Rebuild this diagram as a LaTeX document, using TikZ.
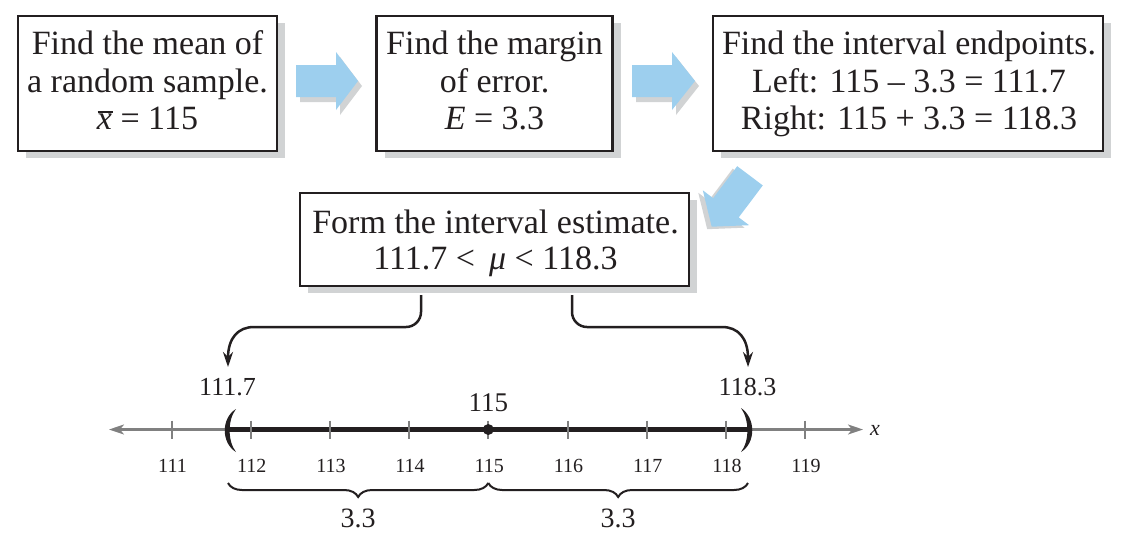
\documentclass[tikz,border=0pt]{standalone}
\usepackage{fontspec}
\setmainfont{Liberation Serif}
\usetikzlibrary{calc,arrows.meta,decorations.pathreplacing,shadows}
\definecolor{arrowblue}{RGB}{157,207,238}
\definecolor{shadowgray}{RGB}{209,211,212}
\definecolor{axisgray}{RGB}{128,128,128}
\definecolor{ink}{RGB}{35,31,32}
\newcommand\fatarrow[3]{% #1 tail, #2 tip, #3 style
  \coordinate (#1h) at ($(#1)!40pt!(#2)$);
  \fill[#3] ($(#1)!16pt!90:(#2)$) -- ($(#1h)!16pt!90:(#2)$) -- ($(#1h)!29pt!90:(#2)$) -- (#2)
    -- ($(#1h)!29pt!-90:(#2)$) -- ($(#1h)!16pt!-90:(#2)$) -- ($(#1)!16pt!-90:(#2)$) -- cycle;
}
\newcommand\xbar{\leavevmode\rlap{\hspace{0.02em}\raisebox{0.5em}{\rule{0.46em}{1.6pt}}}\textit{x}}
\begin{document}
\begin{tikzpicture}[x=1pt,y=-1pt,
  box/.style={draw=ink, line width=2.5pt, fill=white, inner sep=0pt,
    drop shadow={shadow xshift=8pt, shadow yshift=-7pt, opacity=1, fill=shadowgray}},
  txt/.style={anchor=base, inner sep=0pt, text=ink, font=\fontsize{34}{38}\selectfont},
  ticklab/.style={anchor=base, inner sep=0pt, text=ink, font=\fontsize{20}{24}\selectfont},
  biglab/.style={anchor=base, inner sep=0pt, text=ink, font=\fontsize{27}{30}\selectfont},
  conn/.style={draw=ink, line width=2.5pt, -{Stealth[length=15pt,width=10pt,inset=5pt]}},
  axisline/.style={draw=axisgray, line width=2.2pt},
  tickline/.style={draw=axisgray, line width=2pt},
  bracestyle/.style={draw=ink, line width=2pt, decorate, decoration={brace, amplitude=14pt, mirror}},
]
\useasboundingbox (0,0) rectangle (1126,539);

% boxes
\node[box, minimum width=259pt, minimum height=135pt] (b1) at (147.5,83.5) {};
\node[box, minimum width=236pt, minimum height=135pt] (b2) at (494.5,83.5) {};
\node[box, minimum width=390pt, minimum height=135pt] (b3) at (908,83.5) {};
\node[box, minimum width=389pt, minimum height=93pt] (b4) at (494.5,239.5) {};

% box texts
\node[txt] (t1a) at (147.5,54.5) {Find the mean of};
\node[txt] (t1b) at (147.5,92) {a random sample.};
\node[txt] (t1c) at (147.5,129.5) {\xbar{} = 115};
\node[txt] (t2a) at (494.5,54.5) {Find the margin};
\node[txt] (t2b) at (494.5,92) {of error.};
\node[txt] (t2c) at (494.5,129.5) {\textit{E} = 3.3};
\node[txt] (t3a) at (909,54.5) {Find the interval endpoints.};
\node[txt] (t3b) at (909,92) {Left: 115 – 3.3 = 111.7};
\node[txt] (t3c) at (909,129.5) {Right: 115 + 3.3 = 118.3};
\node[txt] (t4a) at (495.5,233) {Form the interval estimate.};
\node[txt] (t4b) at (495.5,269.5) {111.7 <\, \textit{μ} < 118.3};

% fat arrows
\coordinate (a1) at (296,81); \coordinate (a1t) at (358,81);
\coordinate (a2) at (632,81); \coordinate (a2t) at (695,81);
\coordinate (a3) at (750,175.8); \coordinate (a3t) at (711.7,226.7);
\coordinate (s1) at (300,86); \coordinate (s1t) at (362,86);
\coordinate (s2) at (636,86); \coordinate (s2t) at (699,86);
\coordinate (s3) at (745.5,178.3); \coordinate (s3t) at (707.2,229.2);
\fatarrow{s1}{s1t}{shadowgray}
\fatarrow{s2}{s2t}{shadowgray}
\fatarrow{s3}{s3t}{shadowgray}
\fatarrow{a1}{a1t}{arrowblue}
\fatarrow{a2}{a2t}{arrowblue}
\fatarrow{a3}{a3t}{arrowblue}

% number line
\draw[axisline, {Stealth[length=15pt,width=10pt,inset=4pt]}-{Stealth[length=15pt,width=10pt,inset=4pt]}] (109,429.5) -- (863,429.5);
\draw[ink, line width=5pt] (227,429.5) -- (749.5,429.5);
\foreach \v in {111,...,119} {
  \draw[tickline] ({488.3+79.2*(\v-115)},420.5) -- ++(0,18);
  \node[ticklab] (tl\v) at ({488.3+79.2*(\v-115)+1},472) {\v};
}
\fill[ink] (488.3,429.5) circle (5.5);
\fill[ink] (236,409) .. controls (221,418) and (221,443) .. (236,452)
  .. controls (227.5,441) and (227.5,420) .. (236,409) -- cycle;
\fill[ink] (741,408) .. controls (756,418) and (756,443) .. (741,452)
  .. controls (749.5,441) and (749.5,420) .. (741,408) -- cycle;
\node[anchor=base, inner sep=0pt, text=ink, font=\fontsize{22}{24}\selectfont\itshape] (xl) at (875,435) {x};

\node[biglab] (c115) at (488.3,411) {115};
\node[biglab, font=\fontsize{26}{30}\selectfont] (l117) at (227.5,395) {111.7};
\node[biglab, font=\fontsize{26}{30}\selectfont] (l183) at (747.5,395) {118.3};

% curved connectors
\coordinate (c1) at (421,295);
\coordinate (c2) at (572,295);
\coordinate (e1) at (228,367);
\coordinate (e2) at (748,367);
\draw[conn] (c1) -- (421,312) .. controls (421,320.3) and (414.3,327) .. (406,327)
  -- (254,327) .. controls (238,327) and (228,338) .. (e1);
\draw[conn] (c2) -- (572,312) .. controls (572,320.3) and (578.7,327) .. (587,327)
  -- (722,327) .. controls (738,327) and (748,338) .. (e2);

% braces
\draw[bracestyle] (228,483) -- (488.3,483);
\draw[bracestyle] (488.3,483) -- (748,483);
\node[anchor=base, inner sep=0pt, text=ink, font=\fontsize{28}{30}\selectfont] (d1) at (358,527) {3.3};
\node[anchor=base, inner sep=0pt, text=ink, font=\fontsize{28}{30}\selectfont] (d2) at (618,527) {3.3};
\end{tikzpicture}
\end{document}
